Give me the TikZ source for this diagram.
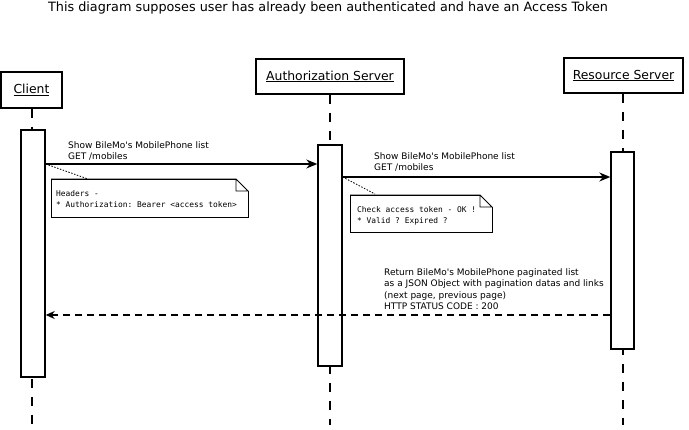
\documentclass[tikz,border=0pt]{standalone}
\usepackage{fontspec}
\setmainfont{DejaVu Sans}
\setmonofont{DejaVu Sans Mono}
\usetikzlibrary{arrows.meta,positioning,calc}

\begin{document}
\begin{tikzpicture}[
    x=1pt, y=-1pt,
    actor/.style={
        rectangle,
        draw,
        line width=1.6pt,
        fill=white,
        align=center,
        inner sep=0pt,
        font=\fontsize{12.4}{14}\selectfont
    },
    activation/.style={
        rectangle,
        draw,
        line width=1.4pt,
        fill=white,
        minimum width=24pt,
        inner sep=0pt
    },
    lifeline/.style={
        line width=1.6pt,
        dash pattern=on 9pt off 9pt
    },
    msg/.style={
        -{Stealth[length=11pt,width=9pt]},
        line width=1.4pt
    },
    reply/.style={
        -{Stealth[length=9pt,width=8pt]},
        line width=1.4pt,
        dash pattern=on 7pt off 5pt
    },
    msglabel/.style={
        anchor=south west,
        align=left,
        inner sep=0pt,
        font=\fontsize{9}{11.4}\selectfont
    },
    notetext/.style={
        anchor=north west,
        align=left,
        inner sep=0pt,
        font=\ttfamily\fontsize{7.9}{11}\selectfont
    },
    notebox/.style={
        draw,
        fill=white,
        line width=0.8pt
    },
    noteline/.style={
        line width=0.8pt,
        dash pattern=on 1.5pt off 1.5pt
    }
]
\useasboundingbox (0,0) rectangle (689,430);

% Titre
\node[font=\fontsize{12.8}{14}\selectfont] (title) at (328,8) {This diagram supposes user has already been authenticated and have an Access Token};

% Acteurs
\node[actor, minimum width=61pt, minimum height=36pt] (client) at (31.5,90) {\underline{Client}};
\node[actor, minimum width=148pt, minimum height=35pt] (auth) at (330,76.5) {\underline{Authorization Server}};
\node[actor, minimum width=119pt, minimum height=35pt] (resource) at (623.5,75.5) {\underline{Resource Server}};

% Lignes de vie
\coordinate (endclient) at (32,425);
\coordinate (endauth) at (330,425);
\coordinate (endresource) at (623,425);
\draw[lifeline] (client.south -| endclient) -- (endclient);
\draw[lifeline] (auth.south) -- (endauth);
\draw[lifeline] (resource.south -| endresource) -- (endresource);

% Activations
\node[activation, minimum height=247pt] (actclient) at (33,253.5) {};
\node[activation, minimum height=221pt] (actauth) at (330,255.5) {};
\node[activation, minimum width=23pt, minimum height=197pt] (actresource) at (622.5,250.5) {};

% Messages
\coordinate (m1) at (0,164);
\coordinate (m2) at (0,177);
\coordinate (m3) at (0,315);
\draw[msg] (actclient.east |- m1) -- (actauth.west |- m1);
\draw[msg] (actauth.east |- m2) -- (actresource.west |- m2);
\draw[reply] (actresource.west |- m3) -- (actclient.east |- m3);

\node[msglabel] (lbl1) at (68,161) {Show BileMo\textquotesingle s MobilePhone list\\GET /mobiles};
\node[msglabel] (lbl2) at (374,172) {Show BileMo\textquotesingle s MobilePhone list\\GET /mobiles};
\node[msglabel] (lbl3) at (384,310) {Return BileMo\textquotesingle s MobilePhone paginated list\\as a JSON Object with pagination datas and links\\(next page, previous page)\\HTTP STATUS CODE : 200};

% Notes
\coordinate (n1nw) at (51,179);
\coordinate (n1se) at (248,217);
\draw[notebox] (n1nw) -| (n1se) -| cycle;
\fill[white] ($(n1nw -| n1se)+(-12,-1)$) rectangle ($(n1nw -| n1se)+(1,12)$);
\draw[line width=0.8pt] ($(n1nw -| n1se)+(-12,0)$) -- ++(0,12) -- ++(12,0) -- ++(-12,-12) -- (n1nw);
\draw[line width=0.8pt] ($(n1nw -| n1se)+(0,12)$) -- (n1se);
\node[notetext] (note1) at (56,190) {Headers -\\* Authorization: Bearer <access token>};
\draw[noteline] (actclient.east |- m1) -- (88,179);

\coordinate (n2nw) at (350,195);
\coordinate (n2se) at (492,232);
\draw[notebox] (n2nw) -| (n2se) -| cycle;
\fill[white] ($(n2nw -| n2se)+(-12,-1)$) rectangle ($(n2nw -| n2se)+(1,12)$);
\draw[line width=0.8pt] ($(n2nw -| n2se)+(-12,0)$) -- ++(0,12) -- ++(12,0) -- ++(-12,-12) -- (n2nw);
\draw[line width=0.8pt] ($(n2nw -| n2se)+(0,12)$) -- (n2se);
\node[notetext] (note2) at (357,206) {Check access token - OK !\\* Valid ? Expired ?};
\draw[noteline] (actauth.east |- m2) -- (375,194);

\end{tikzpicture}
\end{document}
